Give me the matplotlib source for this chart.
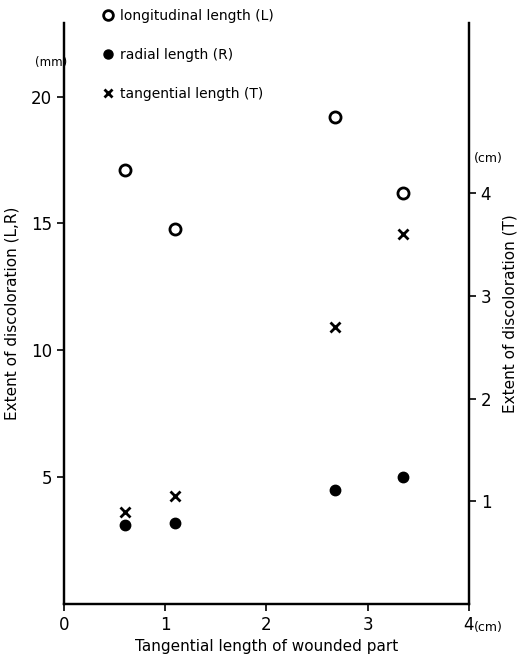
import matplotlib
matplotlib.use("Agg")
import matplotlib.pyplot as plt
from matplotlib.lines import Line2D

plt.rcParams['font.family'] = ['DejaVu Sans']

# data
wound = [0.6, 1.1, 2.68, 3.35]          # tangential length of wounded part (cm)
long_len = [17.1, 14.8, 19.2, 16.2]     # L (mm)
rad_len = [3.1, 3.2, 4.5, 5.0]          # R (mm)
tang_len = [0.9, 1.05, 2.7, 3.6]        # T (cm)

x_ticks = [0, 1, 2, 3, 4]
left_ticks = [5, 10, 15, 20]
right_ticks = [1, 2, 3, 4]

fig = plt.figure(figsize=(5.28, 6.6), dpi=100)
ax = fig.add_axes([0.121, 0.085, 0.767, 0.88])
ax2 = ax.twinx()

ax.plot(wound, long_len, 'o', mfc='white', mec='black', mew=2, ms=8, ls='none')
ax.plot(wound, rad_len, 'o', color='black', ms=7.5, ls='none')
ax2.plot(wound, tang_len, 'x', color='black', mew=2, ms=7, ls='none')

ax.set_xlim(0, 4)
ax.set_ylim(0, 22.9)
ax2.set_ylim(0, 5.66)
ax.set_xticks(x_ticks)
ax.set_yticks(left_ticks)
ax2.set_yticks(right_ticks)

for a in (ax, ax2):
    a.spines['top'].set_visible(False)
    for s in ('left', 'right', 'bottom'):
        a.spines[s].set_linewidth(1.6)
    a.tick_params(width=1.2, length=5, labelsize=12)

ax.set_xlabel("Tangential length of wounded part", fontsize=11)
ax.set_ylabel("Extent of discoloration (L,R)", fontsize=11, labelpad=8)
ax2.set_ylabel("Extent of discoloration (T)", fontsize=11, labelpad=8)

fig.text(0.066, 0.905, "(mm)", fontsize=8.5, va='center', ha='left')
fig.text(0.898, 0.76, "(cm)", fontsize=9, va='center', ha='left')
fig.text(0.898, 0.05, "(cm)", fontsize=9, va='center', ha='left')

handles = [
    Line2D([], [], marker='o', ls='none', mfc='white', mec='black', mew=2, ms=7),
    Line2D([], [], marker='o', ls='none', color='black', ms=6.5),
    Line2D([], [], marker='x', ls='none', color='black', mew=2, ms=6),
]
labels = ["longitudinal length (L)", "radial length (R)", "tangential length (T)"]
fig.legend(handles, labels, loc='upper left', bbox_to_anchor=(0.165, 1.005),
           frameon=False, fontsize=10, labelspacing=1.8, handletextpad=0.3,
           handlelength=1.2)

fig.savefig("out.png", dpi=100)
